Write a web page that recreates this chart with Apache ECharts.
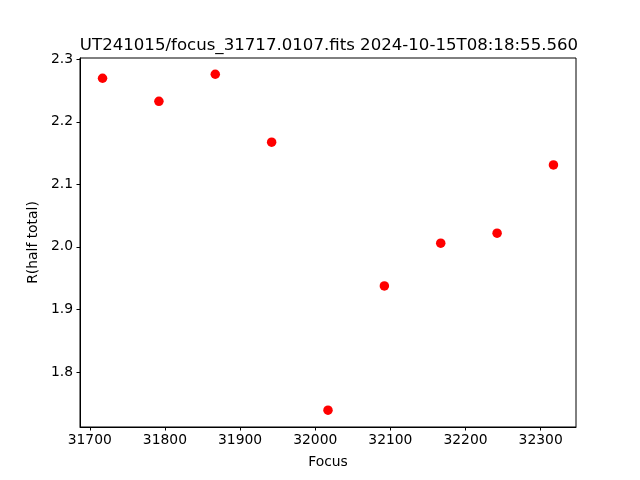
<!DOCTYPE html>
<html>
<head>
<meta charset="utf-8">
<script src="https://cdn.jsdelivr.net/npm/echarts@6/dist/echarts.min.js"></script>
<style>html,body{margin:0;padding:0;background:#fff}#c{width:640px;height:480px}</style>
</head>
<body>
<div id="c"></div>
<script>
var focus = [31717, 31792, 31867, 31942, 32017, 32092, 32167, 32242, 32317];
var rhalf = [2.2696, 2.2328, 2.2760, 2.1673, 1.7388, 1.9375, 2.0058, 2.0218, 2.1310];
var xTicks = [31700, 31800, 31900, 32000, 32100, 32200, 32300];
var yTicks = [1.8, 1.9, 2.0, 2.1, 2.2, 2.3];
var titleText = 'UT241015/focus_31717.0107.fits 2024-10-15T08:18:55.560';

var font = 'DejaVu Sans';
var chart = echarts.init(document.getElementById('c'), null, {renderer: 'canvas'});
var pts = focus.map(function (f, i) { return [f, rhalf[i]]; });
chart.setOption({
  animation: false,
  backgroundColor: '#fff',
  title: {
    text: titleText,
    left: 324, top: 32, textAlign: 'center',
    textStyle: {fontFamily: font, fontSize: 16.6, fontWeight: 'normal', color: '#000'}
  },
  grid: {left: 80, right: 64, top: 58, bottom: 53, show: true, borderColor: '#000', borderWidth: 1, backgroundColor: 'transparent'},
  xAxis: {
    type: 'value', min: 31687, max: 32347,
    name: 'Focus', nameLocation: 'middle', nameGap: 28,
    nameTextStyle: {fontFamily: font, fontSize: 13.89, color: '#000'},
    axisLine: {show: true, onZero: false, lineStyle: {color: '#000', width: 1}},
    axisTick: {show: true, inside: false, length: 3.5, lineStyle: {color: '#000'}, customValues: xTicks},
    axisLabel: {fontFamily: font, fontSize: 13.89, color: '#000', margin: 6, customValues: xTicks,
      formatter: function (v) { return String(v); }},
    splitLine: {show: false}
  },
  yAxis: {
    type: 'value', min: 1.7119, max: 2.3020,
    name: 'R(half total)', nameLocation: 'middle', nameGap: 38,
    nameTextStyle: {fontFamily: font, fontSize: 13.89, color: '#000'},
    axisLine: {show: true, onZero: false, lineStyle: {color: '#000', width: 1}},
    axisTick: {show: true, inside: false, length: 3.5, lineStyle: {color: '#000'}, customValues: yTicks},
    axisLabel: {fontFamily: font, fontSize: 13.89, color: '#000', margin: 7, customValues: yTicks,
      formatter: function (v) { return v.toFixed(1); }},
    splitLine: {show: false}
  },
  series: [{
    type: 'scatter',
    data: pts,
    symbol: 'circle',
    symbolSize: 9.5,
    itemStyle: {color: '#ff0000', opacity: 1}
  }]
});
</script>
</body>
</html>
